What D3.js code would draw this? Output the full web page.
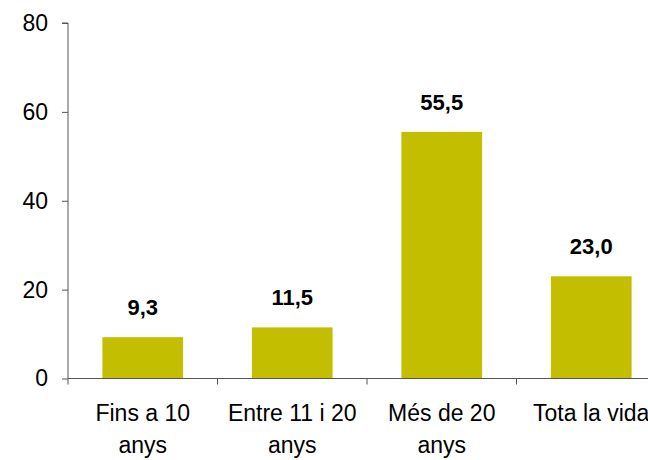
<!DOCTYPE html>
<html>
<head>
<meta charset="utf-8">
<script src="https://cdn.jsdelivr.net/npm/d3@7"></script>
<style>
  html, body { margin: 0; padding: 0; background: #fff; }
  svg { display: block; }
  text { font-family: "Liberation Sans", Arial, sans-serif; fill: #000; }
</style>
</head>
<body>
<svg id="chart" width="648" height="460"></svg>
<script>
const categories = [["Fins a 10", "anys"], ["Entre 11 i 20", "anys"], ["Més de 20", "anys"], ["Tota la vida"]];
const values = [9.3, 11.5, 55.5, 23.0];
const valueLabels = ["9,3", "11,5", "55,5", "23,0"];
const yTicks = [0, 20, 40, 60, 80];

const svg = d3.select("#chart");
const plotLeft = 68, plotRight = 666, plotTop = 23, plotBottom = 378.5;

const x = d3.scaleBand()
  .domain(d3.range(categories.length))
  .range([plotLeft, plotRight])
  .paddingInner(0.46)
  .paddingOuter(0.23);

const y = d3.scaleLinear().domain([0, 80]).range([plotBottom, plotTop]);

const barColor = "#C4BE00";
const axisColor = "#555";

// bars
svg.selectAll("rect.bar")
  .data(values)
  .enter().append("rect")
  .attr("class", "bar")
  .attr("x", (d, i) => x(i))
  .attr("width", x.bandwidth())
  .attr("y", d => y(d))
  .attr("height", d => y(0) - y(d))
  .attr("fill", barColor);

// value labels
svg.selectAll("text.val")
  .data(values)
  .enter().append("text")
  .attr("class", "val")
  .attr("x", (d, i) => x(i) + x.bandwidth() / 2)
  .attr("y", d => y(d) - 22)
  .attr("text-anchor", "middle")
  .attr("font-size", 22)
  .attr("font-weight", "bold")
  .text((d, i) => valueLabels[i]);

// y axis
const yAxis = d3.axisLeft(y).tickValues(yTicks).tickSize(6).tickPadding(14)
  .tickFormat(d3.format("d"));
const gy = svg.append("g").attr("transform", `translate(${plotLeft},0)`).call(yAxis);
gy.select(".domain").attr("stroke", axisColor).attr("d", `M-6,${plotTop}H0V${plotBottom}`);
gy.selectAll(".tick line").attr("stroke", axisColor);
gy.selectAll(".tick text").attr("font-size", 23).attr("font-family", "Liberation Sans, Arial, sans-serif").attr("fill", "#000");

// x axis line
svg.append("line")
  .attr("x1", plotLeft).attr("x2", 648)
  .attr("y1", y(0)).attr("y2", y(0))
  .attr("stroke", axisColor).attr("stroke-width", 1);

// category boundary ticks
const step = x.step();
const boundaries = d3.range(categories.length + 1).map(i => x(0) - x.paddingOuter() * step + i * step);
svg.selectAll("line.xt")
  .data(boundaries)
  .enter().append("line")
  .attr("class", "xt")
  .attr("x1", d => d).attr("x2", d => d)
  .attr("y1", y(0)).attr("y2", y(0) + 6)
  .attr("stroke", axisColor);

// category labels
const catG = svg.selectAll("text.cat")
  .data(categories)
  .enter().append("text")
  .attr("class", "cat")
  .attr("text-anchor", "middle")
  .attr("font-size", 23);
catG.each(function(lines, i) {
  const t = d3.select(this);
  lines.forEach((ln, j) => {
    t.append("tspan")
      .attr("x", x(i) + x.bandwidth() / 2)
      .attr("y", 421 + j * 32)
      .text(ln);
  });
});
</script>
</body>
</html>
